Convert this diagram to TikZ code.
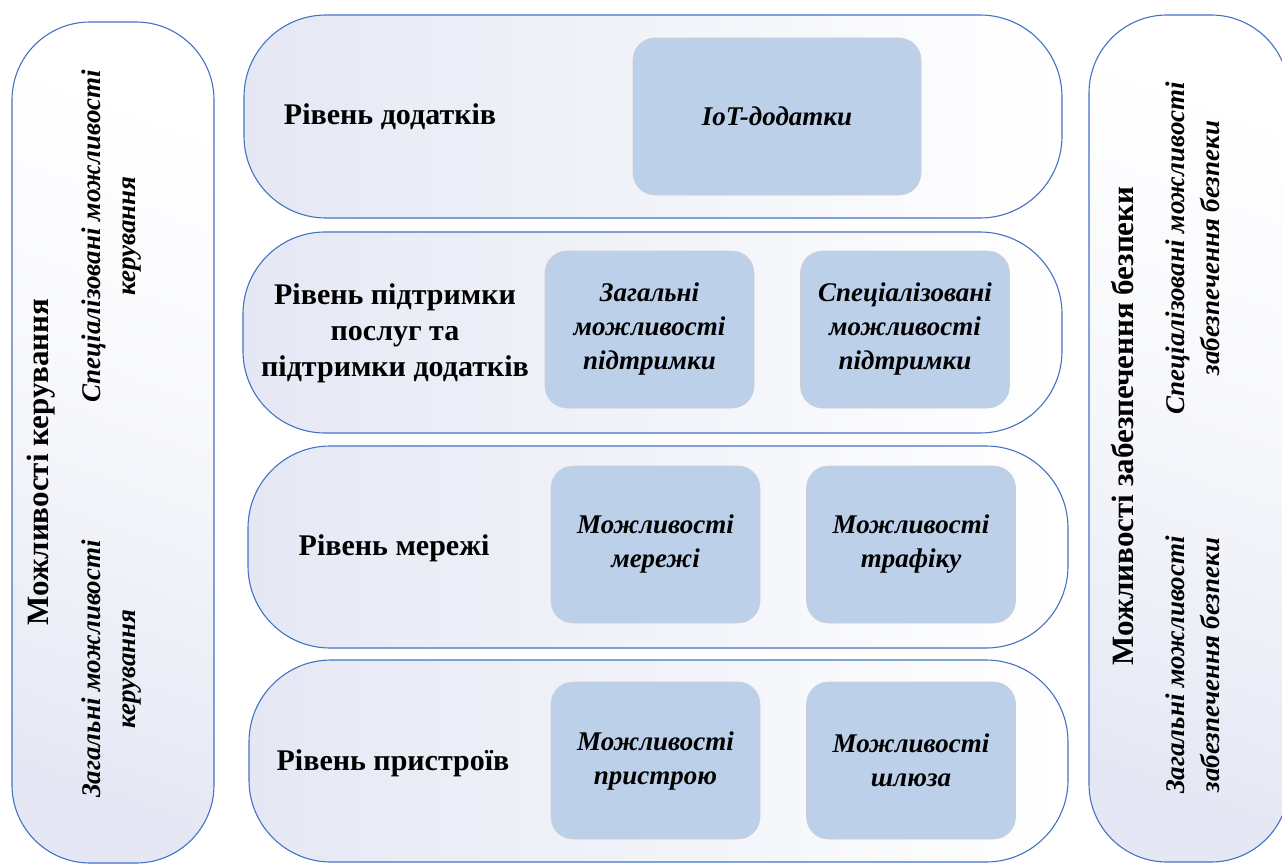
\documentclass[tikz,border=0pt]{standalone}
\usepackage{fontspec}
\setmainfont{Liberation Serif}
\definecolor{edge}{HTML}{4472C4}
\definecolor{lav}{HTML}{E5E8F4}
\definecolor{cell}{HTML}{BDD0E9}
\definecolor{cellline}{HTML}{CDCFD3}
\begin{document}
\begin{tikzpicture}[x=1pt,y=-1pt,
  layer/.style={draw=edge, line width=1.1pt, rounded corners=82pt, inner sep=0pt,
    left color=lav, middle color=lav!15!white, right color=white},
  column/.style={draw=edge, line width=1.1pt, rounded corners=78pt, inner sep=0pt,
    top color=white, bottom color=lav, middle color=lav!35!white, shading angle=-20},
  cellbox/.style={draw=cellline, line width=0.6pt, fill=cell, rounded corners=22pt,
    inner sep=0pt, align=center, font=\fontsize{27}{34}\selectfont\bfseries\itshape},
  layertext/.style={align=center, font=\fontsize{30}{36}\selectfont\bfseries},
  coltitle/.style={rotate=90, font=\fontsize{31}{36}\selectfont\bfseries},
  colnote/.style={rotate=90, align=center, font=\fontsize{27}{35}\selectfont\bfseries\itshape}]
\useasboundingbox (0,0) rectangle (1282,864);

% side columns
\node[column, minimum width=202pt, minimum height=841pt] (mgmt) at (113,442.5) {};
\node[column, minimum width=200pt, minimum height=847pt] (sec) at (1189,438.5) {};

% layers
\node[layer, minimum width=818pt, minimum height=203pt] (app) at (653,116.5) {};
\node[layer, minimum width=819pt, minimum height=201pt] (svc) at (652.5,332.5) {};
\node[layer, minimum width=820pt, minimum height=202pt] (net) at (658,547) {};
\node[layer, minimum width=819pt, minimum height=202pt] (dev) at (658.5,761) {};

% layer titles
\node[layertext] (appT) at (390,117) {Рівень додатків};
\node[layertext] (svcT) at (395,333) {Рівень підтримки\\послуг та\\підтримки додатків};
\node[layertext] (netT) at (394,548) {Рівень мережі};
\node[layertext] (devT) at (393,763) {Рівень пристроїв};

% capability cells
\node[cellbox, minimum width=288pt, minimum height=157pt] (iot) at (777,116.5) {IoT-додатки};
\node[cellbox, minimum width=209pt, minimum height=157pt] (gsup) at (649.5,329.5) {Загальні\\можливості\\підтримки};
\node[cellbox, minimum width=209pt, minimum height=157pt] (ssup) at (905,329.5) {Спеціалізовані\\можливості\\підтримки};
\node[cellbox, minimum width=209pt, minimum height=157pt] (netc) at (655.5,544.5) {Можливості\\мережі};
\node[cellbox, minimum width=209pt, minimum height=157pt] (trf) at (911,544.5) {Можливості\\трафіку};
\node[cellbox, minimum width=209pt, minimum height=157pt] (devc) at (655.5,760.5) {Можливості\\пристрою};
\node[cellbox, minimum width=209pt, minimum height=157pt] (gw) at (911,760.5) {Можливості\\шлюза};

% management column texts
\node[coltitle] (mgmtT) at (41,462) {Можливості керування};
\node[colnote] (mgmtS) at (112,236) {Спеціалізовані можливості\\керування};
\node[colnote] (mgmtG) at (112,669) {Загальні можливості\\керування};

% security column texts
\node[coltitle] (secT) at (1123,426) {Можливості забезпечення безпеки};
\node[colnote] (secS) at (1193,248) {Спеціалізовані можливості\\забезпечення безпеки};
\node[colnote] (secG) at (1193,665) {Загальні можливості\\забезпечення безпеки};
\end{tikzpicture}
\end{document}
